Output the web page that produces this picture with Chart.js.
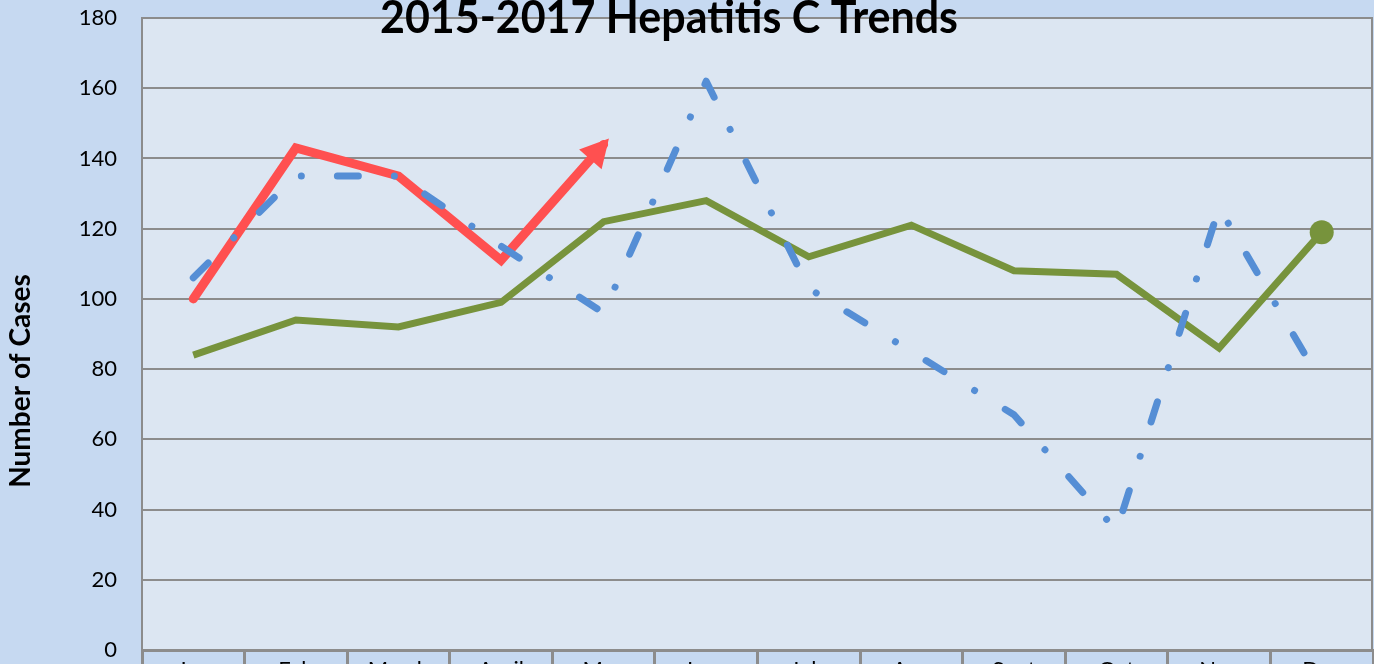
<!DOCTYPE html>
<html>
<head>
<meta charset="utf-8">
<script src="https://cdn.jsdelivr.net/npm/chart.js@4/dist/chart.umd.min.js"></script>
<style>
  html, body { margin: 0; padding: 0; background: #c6d9f1; overflow: hidden; }
  #wrap { width: 1374px; height: 664px; overflow: hidden; position: relative; background: #c6d9f1; }
  canvas { display: block; }
</style>
</head>
<body>
<div id="wrap"><canvas id="c" width="1374" height="720"></canvas></div>
<script>
const chartTitle = '2015-2017 Hepatitis C Trends';
const yAxisTitle = 'Number of Cases';
const months = ['Jan', 'Feb', 'March', 'April', 'May', 'June', 'July', 'Aug', 'Sept', 'Oct', 'Nov', 'Dec'];
const yTicks = [0, 20, 40, 60, 80, 100, 120, 140, 160, 180];
const cases2015 = [106, 135, 135, 115, 96, 162, 103, 85, 67, 34, 126, 76];
const cases2016 = [84, 94, 92, 99, 122, 128, 112, 121, 108, 107, 86, 119];
const cases2017 = [100, 143, 135, 111, 144, null, null, null, null, null, null, null];

const plotBg = {
  id: 'plotBg',
  beforeDraw(chart) {
    const { ctx, chartArea: a } = chart;
    ctx.save();
    ctx.fillStyle = '#dce6f2';
    ctx.fillRect(a.left, a.top, a.right - a.left, a.bottom - a.top);
    ctx.restore();
  },
  afterDraw(chart) {
    const { ctx, chartArea: a } = chart;
    ctx.save();
    ctx.strokeStyle = '#8c8c8c';
    ctx.lineWidth = 2;
    ctx.beginPath();
    ctx.moveTo(a.right - 1, a.top);
    ctx.lineTo(a.right - 1, a.bottom);
    ctx.stroke();
    // chart title
    ctx.fillStyle = '#000';
    ctx.font = 'bold 46px Lato';
    ctx.textAlign = 'center';
    ctx.textBaseline = 'alphabetic';
    ctx.fillText(chartTitle, 669, 33, 578);
    // y axis title
    ctx.translate(21, 381);
    ctx.rotate(-Math.PI / 2);
    ctx.font = 'bold 28px Lato';
    ctx.textBaseline = 'middle';
    ctx.fillText(yAxisTitle, 0, 0, 222);
    ctx.restore();
  }
};

const arrowHead = {
  id: 'arrowHead',
  afterDatasetsDraw(chart) {
    const meta = chart.getDatasetMeta(1);
    const pts = meta.data;
    let last = -1;
    for (let i = 0; i < cases2017.length; i++) if (cases2017[i] !== null) last = i;
    if (last < 1) return;
    const p1 = pts[last - 1], p2 = pts[last];
    const dx = p2.x - p1.x, dy = p2.y - p1.y;
    const len = Math.hypot(dx, dy);
    const ux = dx / len, uy = dy / len;
    const tipX = p2.x + ux * 8, tipY = p2.y + uy * 8;
    const L = 28, W = 15;
    const bx = tipX - ux * L, by = tipY - uy * L;
    const { ctx } = chart;
    ctx.save();
    ctx.fillStyle = '#ff5050';
    ctx.beginPath();
    ctx.moveTo(tipX, tipY);
    ctx.lineTo(bx - uy * W, by + ux * W);
    ctx.lineTo(bx + uy * W, by - ux * W);
    ctx.closePath();
    ctx.fill();
    ctx.restore();
  }
};

new Chart(document.getElementById('c'), {
  type: 'line',
  data: {
    labels: months,
    datasets: [
      {
        label: '2015',
        data: cases2015,
        borderColor: '#558ed5',
        borderWidth: 7,
        borderDash: [21, 36, 0.01, 36],
        borderCapStyle: 'round',
        borderJoinStyle: 'round',
        pointRadius: 0,
        tension: 0,
        fill: false
      },
      {
        label: '2017',
        data: cases2017,
        borderColor: '#ff5050',
        borderWidth: 9,
        borderCapStyle: 'round',
        borderJoinStyle: 'miter',
        pointRadius: 0,
        tension: 0,
        fill: false
      },
      {
        label: '2016',
        data: cases2016,
        borderColor: '#77933c',
        backgroundColor: '#77933c',
        borderWidth: 7,
        borderJoinStyle: 'miter',
        pointRadius: cases2016.map((v, i) => i === cases2016.length - 1 ? 12 : 0),
        pointBackgroundColor: '#77933c',
        pointBorderWidth: 0,
        tension: 0,
        fill: false
      }
    ]
  },
  options: {
    responsive: false,
    animation: false,
    devicePixelRatio: 1,
    layout: { autoPadding: false, padding: { top: 18, right: 1, left: 0, bottom: 0 } },
    plugins: {
      legend: { display: false },
      title: { display: false },
      tooltip: { enabled: false }
    },
    scales: {
      x: {
        offset: true,
        grid: {
          display: true,
          drawOnChartArea: false,
          drawTicks: true,
          tickLength: 70,
          offset: true,
          color: '#8c8c8c',
          lineWidth: 3
        },
        border: { display: true, color: '#8c8c8c', width: 3 },
        ticks: {
          padding: -63,
          color: '#000',
          font: { family: 'Lato', size: 22 },
          maxRotation: 0,
          autoSkip: false
        },
        afterFit(scale) { scale.height = 70; scale.paddingLeft = 0; scale.paddingRight = 0; }
      },
      y: {
        min: 0,
        max: 180,
        afterBuildTicks(scale) { scale.ticks = yTicks.map(v => ({ value: v })); },
        grid: {
          color: '#8c8c8c',
          lineWidth: 2,
          drawTicks: false
        },
        border: { display: true, color: '#8c8c8c', width: 2 },
        ticks: {
          padding: 25,
          color: '#000',
          font: { family: 'Lato', size: 22 }
        },
        afterFit(scale) { scale.width = 142; scale.paddingTop = 0; scale.paddingBottom = 0; }
      }
    }
  },
  plugins: [plotBg, arrowHead]
});
</script>
</body>
</html>
